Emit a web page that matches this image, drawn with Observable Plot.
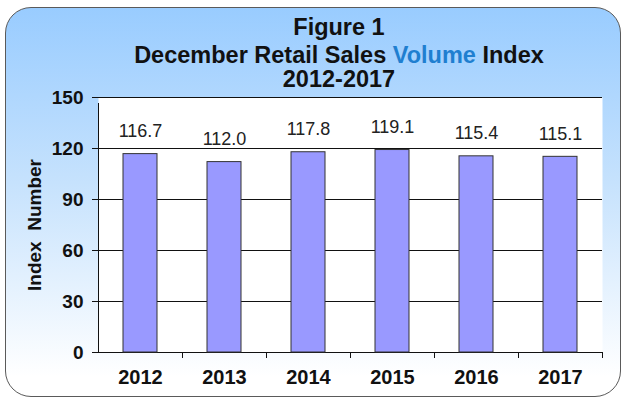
<!DOCTYPE html>
<html>
<head>
<meta charset="utf-8">
<script src="https://cdn.jsdelivr.net/npm/d3@7"></script>
<script src="https://cdn.jsdelivr.net/npm/@observablehq/plot@0.6"></script>
<style>
  html, body { margin: 0; padding: 0; background: #ffffff; }
  #wrap { position: relative; width: 623px; height: 400px; overflow: hidden; font-family: "Liberation Sans", Arial, sans-serif; }
  #box { position: absolute; left: 5px; top: 7px; width: 616px; height: 390px; box-sizing: border-box;
         border: 1.5px solid #5a5a5a; border-radius: 26px;
         background: linear-gradient(to bottom, #99ccff 0%, #c6e2fd 45%, #ffffff 95%); }
  .tline { position: absolute; left: 0; width: 678px; text-align: center; font-weight: bold;
           font-size: 23.5px; line-height: 26px; color: #111; white-space: nowrap; }
  .tline .blue { color: #1f7fd0; }
  #chart { position: absolute; left: 0; top: 0; }
</style>
</head>
<body>
<div id="wrap">
  <div id="box"></div>
  <div id="chart"></div>
  <div class="tline" style="top:14px">Figure 1</div>
  <div class="tline" style="top:41.5px">December Retail Sales <span class="blue">Volume</span> Index</div>
  <div class="tline" style="top:66px">2012-2017</div>
</div>
<script>
const years = ["2012", "2013", "2014", "2015", "2016", "2017"];
const values = [116.7, 112.0, 117.8, 119.1, 115.4, 115.1];
const yTicks = [0, 30, 60, 90, 120, 150];
const gridLines = [30, 60, 90, 120, 150];

const data = years.map((year, i) => ({year, value: values[i]}));

const W = 623, H = 400;
const mL = 98, mR = 21, mT = 97, mB = 48;
const halfStep = (W - mL - mR) / years.length / 2;

const chart = Plot.plot({
  width: W,
  height: H,
  marginLeft: mL,
  marginRight: mR,
  marginTop: mT,
  marginBottom: mB,
  style: {background: "transparent", fontFamily: "'Liberation Sans', Arial, sans-serif", color: "#111"},
  x: {domain: years, paddingInner: 0.6, paddingOuter: 0.3},
  y: {domain: [0, 150]},
  marks: [
    Plot.frame({fill: "white", stroke: "none"}),
    Plot.ruleY(gridLines, {stroke: "#111", strokeWidth: 1}),
    Plot.ruleY([0], {stroke: "#111", strokeWidth: 1}),
    Plot.barY(data, {x: "year", y: "value", fill: "#9999ff", stroke: "#333", strokeWidth: 1}),
    Plot.text(data, {x: "year", y: "value", text: d => d.value.toFixed(1), dy: -23, fontSize: 18, fill: "#222"}),
    Plot.ruleX(years, {x: d => d, dx: halfStep, y1: 0, y2: 0, insetBottom: -6, stroke: "#111"}),
    Plot.ruleX([years[0]], {x: d => d, dx: -halfStep, y1: 0, y2: 150, insetBottom: -6, stroke: "#111"}),
    Plot.axisX({tickSize: 0, tickPadding: 17, fontSize: 20, fontWeight: "bold", label: null}),
    Plot.axisY({ticks: yTicks, tickSize: 6, tickPadding: 9, fontSize: 19, fontWeight: "bold",
                label: "Index\u00a0 Number", labelAnchor: "center", labelArrow: "none", labelOffset: 71})
  ]
});
document.getElementById("chart").appendChild(chart);
</script>
</body>
</html>
